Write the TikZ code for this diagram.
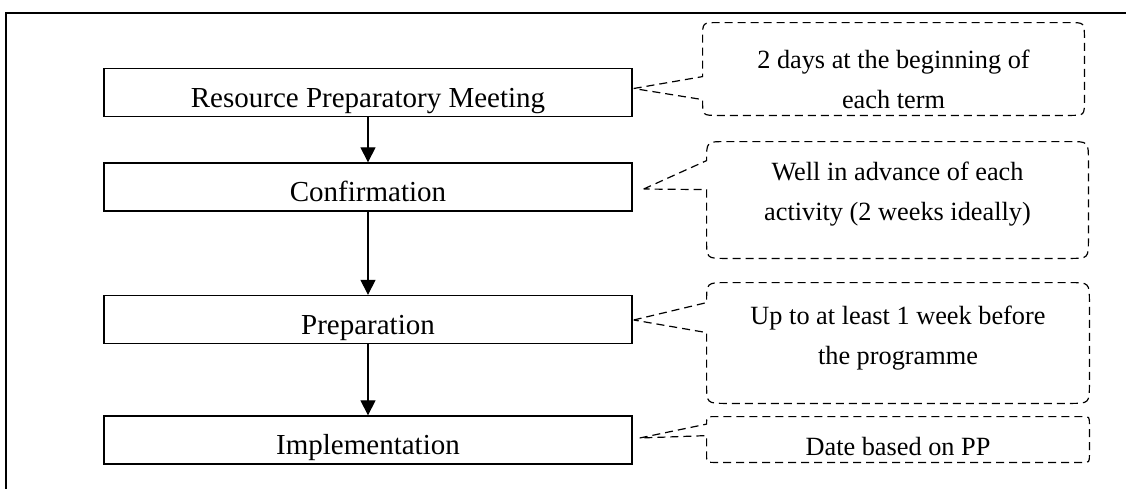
\documentclass[tikz,border=0pt]{standalone}
\usepackage{fontspec}
\setmainfont{Liberation Serif}
\usetikzlibrary{calc,arrows.meta}
\tikzset{
  stepbox/.style={draw, line width=0.65pt, inner sep=0pt, minimum width=264pt,
    text height=19.25pt, text depth=4.75pt, anchor=base,
    font=\fontsize{14.5pt}{17pt}\selectfont},
  frame/.style={draw=none, inner sep=0pt},
  calloutline/.style={line width=0.6pt, dash pattern=on 4pt off 2.5pt},
  notetext/.style={inner sep=0pt, anchor=north, align=center,
    font=\fontsize{13.15pt}{20pt}\selectfont},
  flow/.style={line width=0.55pt, -{Triangle[width=7.5pt,length=7.5pt]}},
}
\newcommand\calloutpath[5]{%
  \draw[calloutline] (#2)
   -- ($(#1.north west)+(0,#4)$)
   -- ($(#1.north west)+(0,#3)$) .. controls (#1.north west) .. ($(#1.north west)+(#3,0)$)
   -- ($(#1.north east)+(-#3,0)$) .. controls (#1.north east) .. ($(#1.north east)+(0,#3)$)
   -- ($(#1.south east)+(0,-#3)$) .. controls (#1.south east) .. ($(#1.south east)+(-#3,0)$)
   -- ($(#1.south west)+(#3,0)$) .. controls (#1.south west) .. ($(#1.south west)+(0,-#3)$)
   -- ($(#1.north west)+(0,#5)$) -- (#2);}
\begin{document}
\begin{tikzpicture}[x=0.5pt,y=-0.5pt]
\useasboundingbox (0,0) rectangle (1126,488);
% outer frame
\draw[line width=0.65pt] (6,520) -- (6,13) -- (1160,13);

% steps
\node[stepbox] (b1) at (368,107) {Resource Preparatory Meeting};
\node[stepbox] (b2) at (368,201.5) {Confirmation};
\node[stepbox] (b3) at (368,334) {Preparation};
\node[stepbox] (b4) at (368,454.5) {Implementation};

\draw[flow] (b1.south) -- (b2.north);
\draw[flow] (b2.south) -- (b3.north);
\draw[flow] (b3.south) -- (b4.north);

% callout frames
\node[frame, minimum width=190.5pt, minimum height=46pt] (c1) at (893.5,69) {};
\node[frame, minimum width=190.5pt, minimum height=58pt] (c2) at (897.5,200) {};
\node[frame, minimum width=191pt, minimum height=60pt] (c3) at (898,343) {};
\node[frame, minimum width=191pt, minimum height=22.5pt] (c4) at (898,439.5) {};

\coordinate (p1) at ($(b1.east)+(1,-4)$);
\coordinate (p2) at ($(b2.east)+(11,2)$);
\coordinate (p3) at ($(b3.east)+(1,0.5)$);
\coordinate (p4) at ($(b4.east)+(7,-2)$);

\calloutpath{c1}{p1}{15}{54}{77}
\calloutpath{c2}{p2}{19}{19}{48}
\calloutpath{c3}{p3}{20}{20}{50}
\calloutpath{c4}{p4}{7.5}{7.5}{19}

% callout texts
\node[notetext] (t1) at ($(c1.north)+(0,27)$) {2 days at the beginning of\\each term};
\node[notetext] (t2) at ($(c2.north)+(0,20)$) {Well in advance of each\\activity (2 weeks ideally)};
\node[notetext] (t3) at ($(c3.north)+(0,23)$) {Up to at least 1 week before\\the programme};
\node[notetext] (t4) at ($(c4.north)+(0,20)$) {Date based on PP};
\end{tikzpicture}
\end{document}
